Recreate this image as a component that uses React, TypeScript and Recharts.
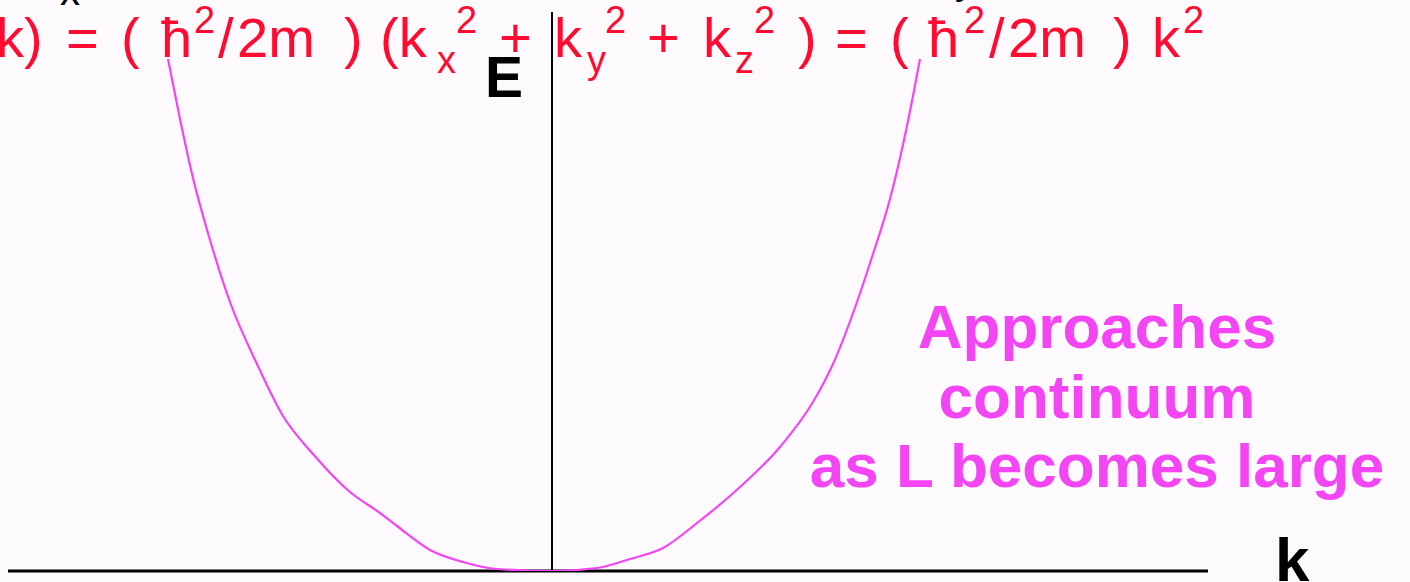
import React from 'react';
import { LineChart, Line, XAxis, YAxis, ReferenceLine } from 'recharts';

// wave vector k (arbitrary units) and energy E (arbitrary units) along the parabola
const kValues = [
  -3.84, -3.72, -3.59, -3.42, -3.22, -2.95, -2.69, -2.39, -2.02, -1.72, -1.55, -1.22, -0.89, -0.55, 0,
  0.45, 0.78, 1.11, 1.45, 1.88, 2.28, 2.61, 2.81, 3.05, 3.21, 3.38, 3.55, 3.68,
];
const energyValues = [
  5.12, 4.52, 3.93, 3.31, 2.69, 2.07, 1.55, 1.17, 0.79, 0.58, 0.45, 0.21, 0.09, 0.02, 0,
  0.03, 0.12, 0.23, 0.48, 0.84, 1.24, 1.69, 2.07, 2.69, 3.17, 3.72, 4.45, 5.12,
];
const kDomain = [-5.44, 6.56];
const energyDomain = [0, 5.59];

const axisLabelE = 'E';
const axisLabelK = 'k';
const annotationLines = ['Approaches', 'continuum', 'as L becomes large'];

type Piece = { t: string; x: number; kind: 'main' | 'sup' | 'sub' };
const equationPieces: Piece[] = [
  { t: 'k)', x: -4, kind: 'main' },
  { t: '=', x: 66, kind: 'main' },
  { t: '(', x: 121, kind: 'main' },
  { t: 'ħ', x: 161, kind: 'main' },
  { t: '2', x: 194, kind: 'sup' },
  { t: '/', x: 218, kind: 'main' },
  { t: '2m', x: 237, kind: 'main' },
  { t: ')', x: 344, kind: 'main' },
  { t: '(k', x: 380, kind: 'main' },
  { t: 'x', x: 437, kind: 'sub' },
  { t: '2', x: 456, kind: 'sup' },
  { t: '+', x: 499, kind: 'main' },
  { t: 'k', x: 554, kind: 'main' },
  { t: 'y', x: 587, kind: 'sub' },
  { t: '2', x: 605, kind: 'sup' },
  { t: '+', x: 647, kind: 'main' },
  { t: 'k', x: 703, kind: 'main' },
  { t: 'z', x: 735, kind: 'sub' },
  { t: '2', x: 754, kind: 'sup' },
  { t: ')', x: 798, kind: 'main' },
  { t: '=', x: 835, kind: 'main' },
  { t: '(', x: 890, kind: 'main' },
  { t: 'ħ', x: 928, kind: 'main' },
  { t: '2', x: 964, kind: 'sup' },
  { t: '/', x: 989, kind: 'main' },
  { t: '2m', x: 1008, kind: 'main' },
  { t: ')', x: 1113, kind: 'main' },
  { t: 'k', x: 1152, kind: 'main' },
  { t: '2', x: 1183, kind: 'sup' },
];

const data = kValues.map((k, i) => ({ k, E: energyValues[i] }));

const W = 1410;
const H = 582;
const BG = '#FDFAFD';
const RED = '#FF0A30';
const MAGENTA = '#F445F4';
const FONT = '"Liberation Sans", Arial, "DejaVu Sans", sans-serif';

export default function App() {
  return (
    <div style={{ position: 'absolute', left: 0, top: 0, width: W, height: H, background: BG, overflow: 'hidden' }}>
      <LineChart
        width={W}
        height={H}
        data={data}
        margin={{ top: 12, right: 202, bottom: 11, left: 8 }}
      >
        <XAxis dataKey="k" type="number" domain={kDomain} allowDataOverflow hide />
        <YAxis type="number" domain={energyDomain} allowDataOverflow hide />
        <ReferenceLine x={0} stroke="#000" strokeWidth={2} />
        <ReferenceLine y={0} stroke="#000" strokeWidth={3} />
        <Line
          type="monotone"
          dataKey="E"
          stroke={MAGENTA}
          strokeWidth={2.2}
          dot={false}
          isAnimationActive={false}
        />
      </LineChart>
      <svg
        width={W}
        height={H}
        style={{ position: 'absolute', left: 0, top: 0, pointerEvents: 'none' }}
      >
        <g fontFamily={FONT}>
          <text x={60} y={5} fontSize={40} fill="#000">x</text>
          <text x={955} y={-6} fontSize={40} fill="#000">y</text>
          {equationPieces.map((p, i) => (
            <text
              key={i}
              x={p.x}
              y={p.kind === 'main' ? 57 : p.kind === 'sup' ? 33 : 73}
              fontSize={p.kind === 'main' ? 56 : 38}
              fill={RED}
            >
              {p.t}
            </text>
          ))}
          <text x={485} y={97} fontSize={57} fontWeight="bold" fill="#000">{axisLabelE}</text>
          <text x={1275} y={581} fontSize={62} fontWeight="bold" fill="#000">{axisLabelK}</text>
          {annotationLines.map((line, i) => (
            <text
              key={line}
              x={1097}
              y={348 + i * 69.5}
              fontSize={62}
              fontWeight="bold"
              fill={MAGENTA}
              textAnchor="middle"
            >
              {line}
            </text>
          ))}
        </g>
      </svg>
    </div>
  );
}
